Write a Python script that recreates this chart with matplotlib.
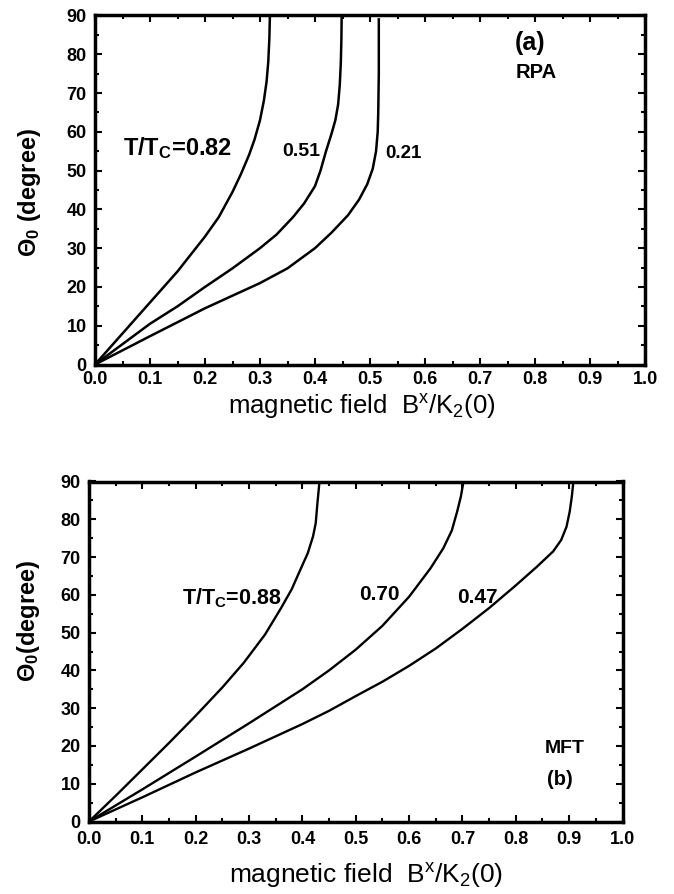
import matplotlib.pyplot as plt
from matplotlib.ticker import MultipleLocator

plt.rcParams['font.family'] = ['Liberation Sans', 'DejaVu Sans']
plt.rcParams['mathtext.default'] = 'regular'

# panel (a): RPA, field B/K2(0) vs theta0 (degree)
rpa_082_b = [0.0, 0.05, 0.10, 0.15, 0.20, 0.225, 0.25, 0.265, 0.28, 0.29, 0.30, 0.307, 0.312, 0.315, 0.317, 0.318]
rpa_082_t = [0.0, 8.0, 16.0, 24.0, 33.0, 38.0, 44.5, 49.0, 54.0, 58.0, 63.0, 68.0, 73.0, 78.0, 84.0, 90.0]

rpa_051_b = [0.0, 0.10, 0.15, 0.20, 0.25, 0.30, 0.33, 0.36, 0.38, 0.40, 0.41, 0.42, 0.43, 0.437, 0.442, 0.445, 0.447, 0.448, 0.4485]
rpa_051_t = [0.0, 10.5, 15.0, 20.0, 24.8, 30.0, 33.5, 38.0, 41.5, 46.0, 50.0, 55.0, 59.5, 63.0, 67.0, 72.0, 78.0, 84.0, 90.0]

rpa_021_b = [0.0, 0.10, 0.20, 0.30, 0.35, 0.40, 0.43, 0.46, 0.48, 0.495, 0.505, 0.511, 0.514, 0.515, 0.516, 0.516]
rpa_021_t = [0.0, 7.3, 14.5, 21.0, 24.8, 30.0, 34.0, 38.5, 42.5, 46.5, 50.5, 55.0, 60.0, 65.0, 75.0, 89.0]

# panel (b): MFT
mft_088_b = [0.0, 0.05, 0.10, 0.15, 0.20, 0.25, 0.29, 0.33, 0.36, 0.38, 0.396, 0.41, 0.42, 0.425, 0.428, 0.432]
mft_088_t = [0.0, 6.8, 13.8, 20.8, 28.0, 35.5, 42.0, 49.5, 56.5, 61.5, 66.6, 71.0, 75.5, 79.0, 84.0, 90.0]

mft_070_b = [0.0, 0.10, 0.20, 0.30, 0.40, 0.45, 0.50, 0.55, 0.60, 0.64, 0.664, 0.68, 0.69, 0.697, 0.702]
mft_070_t = [0.0, 8.5, 17.2, 26.0, 35.0, 40.0, 45.5, 51.8, 59.5, 67.0, 72.3, 77.0, 82.0, 86.0, 90.0]

mft_047_b = [0.0, 0.10, 0.20, 0.30, 0.40, 0.45, 0.50, 0.55, 0.60, 0.65, 0.70, 0.75, 0.80, 0.84, 0.87, 0.885, 0.895, 0.901, 0.905, 0.908]
mft_047_t = [0.0, 6.4, 13.0, 19.3, 25.8, 29.3, 33.2, 37.0, 41.2, 45.8, 51.0, 56.5, 62.5, 67.5, 71.5, 74.5, 78.0, 82.0, 86.0, 90.0]

xticks = [0.0, 0.1, 0.2, 0.3, 0.4, 0.5, 0.6, 0.7, 0.8, 0.9, 1.0]
yticks = [0, 10, 20, 30, 40, 50, 60, 70, 80, 90]


def style_axes(ax, pad_x):
    ax.set_xlim(0, 1)
    ax.set_ylim(0, 90)
    ax.set_xticks(xticks)
    ax.set_yticks(yticks)
    ax.set_xticklabels([f'{v:.1f}' for v in xticks])
    ax.xaxis.set_minor_locator(MultipleLocator(0.05))
    ax.yaxis.set_minor_locator(MultipleLocator(5))
    ax.tick_params(which='both', direction='in', top=True, right=True, width=1.5)
    ax.tick_params(which='major', length=5)
    ax.tick_params(which='minor', length=3)
    ax.tick_params(axis='x', which='major', pad=pad_x)
    ax.tick_params(axis='y', which='major', pad=6)
    for lab in ax.get_xticklabels() + ax.get_yticklabels():
        lab.set_fontsize(13)
        lab.set_fontweight('bold')
    for sp in ax.spines.values():
        sp.set_linewidth(2.5)


fig = plt.figure(figsize=(6.74, 8.94), dpi=100)

ax1 = fig.add_axes([95 / 674, 1 - 364.5 / 894, 550 / 674, 349 / 894])
for b, t in [(rpa_082_b, rpa_082_t), (rpa_051_b, rpa_051_t), (rpa_021_b, rpa_021_t)]:
    ax1.plot(b, t, color='black', lw=1.8)
style_axes(ax1, 5)
ax1.text(0.051, 55.9, 'T/T$_C$=0.82', fontsize=17, fontweight='bold', va='center')
ax1.text(0.34, 55.0, '0.51', fontsize=14, fontweight='bold', va='center')
ax1.text(0.527, 54.3, '0.21', fontsize=13.5, fontweight='bold', va='center')
ax1.text(0.764, 83.0, '(a)', fontsize=18, fontweight='bold', va='center')
ax1.text(0.764, 75.4, 'RPA', fontsize=14.5, fontweight='bold', va='center')
ax1.set_xlabel('magnetic field  B$^x$/K$_2$(0)', fontsize=18.5)
ax1.xaxis.set_label_coords(0.485, -0.08)
ax1.set_ylabel(r'$\Theta_0$ (degree)', fontsize=17, fontweight='bold')
ax1.yaxis.set_label_coords(-0.095, 0.494)

ax2 = fig.add_axes([89 / 674, 1 - 821.5 / 894, 533.5 / 674, 340 / 894])
for b, t in [(mft_088_b, mft_088_t), (mft_070_b, mft_070_t), (mft_047_b, mft_047_t)]:
    ax2.plot(b, t, color='black', lw=1.7)
style_axes(ax2, 7)
ax2.text(0.174, 59.2, 'T/T$_C$=0.88', fontsize=15.5, fontweight='bold', va='center')
ax2.text(0.506, 60.0, '0.70', fontsize=15, fontweight='bold', va='center')
ax2.text(0.69, 59.4, '0.47', fontsize=15, fontweight='bold', va='center')
ax2.text(0.855, 19.2, 'MFT', fontsize=14, fontweight='bold', va='center')
ax2.text(0.859, 11.0, '(b)', fontsize=14.5, fontweight='bold', va='center')
ax2.set_xlabel('magnetic field  B$^x$/K$_2$(0)', fontsize=19)
ax2.xaxis.set_label_coords(0.519, -0.115)
ax2.set_ylabel(r'$\Theta_0$(degree)', fontsize=17, fontweight='bold')
ax2.yaxis.set_label_coords(-0.088, 0.59)

fig.savefig('out.png', dpi=100)
